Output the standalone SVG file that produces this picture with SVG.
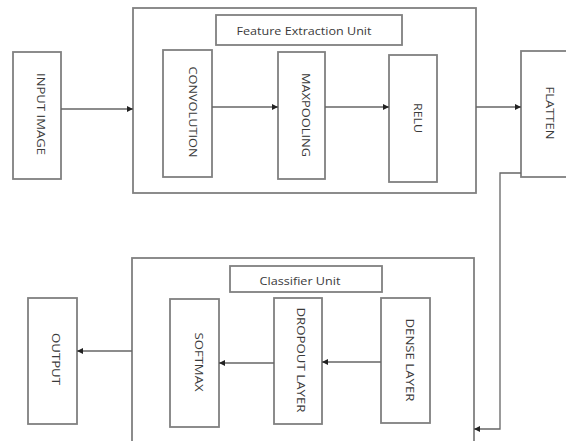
<svg xmlns="http://www.w3.org/2000/svg" width="566" height="441" viewBox="0 0 566 441">
<style>
.b{fill:#fff;stroke:#808080;stroke-width:1.8}
.t{font-family:"Open Sans","Liberation Sans",sans-serif;font-size:11.5px;fill:#3a3a3a;text-anchor:middle;dominant-baseline:central}
.c{fill:none;stroke:#666;stroke-width:1.3}
</style>
<defs>
<marker id="a" viewBox="0 0 10 10" refX="10" refY="5" markerWidth="6" markerHeight="6" markerUnits="userSpaceOnUse" orient="auto"><path d="M0,0L10,5L0,10z" fill="#222"/></marker>
</defs>
<rect width="566" height="441" fill="#fff"/>
<g id="feature-unit"><rect class="b" x="133" y="8" width="343" height="185"/>
<rect class="b" x="216" y="15" width="186" height="30"/>
<text class="t" x="304" y="30" textLength="135" lengthAdjust="spacingAndGlyphs">Feature Extraction Unit</text></g>
<g id="classifier-unit"><rect class="b" x="132" y="258" width="342" height="190"/>
<rect class="b" x="230" y="266" width="152" height="26"/>
<text class="t" x="300" y="280" textLength="81" lengthAdjust="spacingAndGlyphs">Classifier Unit</text></g>
<g id="input"><rect class="b" x="13" y="52" width="48" height="127"/>
<text class="t" transform="translate(41,114) rotate(90)" textLength="82" lengthAdjust="spacingAndGlyphs">INPUT IMAGE</text></g>
<g id="conv"><rect class="b" x="163" y="50" width="49" height="127"/>
<text class="t" transform="translate(193,112) rotate(90)" textLength="91" lengthAdjust="spacingAndGlyphs">CONVOLUTION</text></g>
<g id="maxpool"><rect class="b" x="278" y="52" width="47" height="127"/>
<text class="t" transform="translate(306,115) rotate(90)" textLength="84" lengthAdjust="spacingAndGlyphs">MAXPOOLING</text></g>
<g id="relu"><rect class="b" x="389" y="55" width="48" height="127"/>
<text class="t" transform="translate(418,118) rotate(90)" textLength="30" lengthAdjust="spacingAndGlyphs">RELU</text></g>
<g id="flatten"><rect class="b" x="521" y="51" width="50" height="126"/>
<text class="t" transform="translate(550,113) rotate(90)" textLength="53" lengthAdjust="spacingAndGlyphs">FLATTEN</text></g>
<g id="output"><rect class="b" x="28" y="298" width="49" height="126"/>
<text class="t" transform="translate(56,359) rotate(90)" textLength="52" lengthAdjust="spacingAndGlyphs">OUTPUT</text></g>
<g id="softmax"><rect class="b" x="170" y="299" width="49" height="128"/>
<text class="t" transform="translate(199,362) rotate(90)" textLength="59" lengthAdjust="spacingAndGlyphs">SOFTMAX</text></g>
<g id="dropout"><rect class="b" x="274" y="298" width="48" height="126"/>
<text class="t" transform="translate(301,360) rotate(90)" textLength="105" lengthAdjust="spacingAndGlyphs">DROPOUT LAYER</text></g>
<g id="dense"><rect class="b" x="381" y="298" width="49" height="125"/>
<text class="t" transform="translate(410,360) rotate(90)" textLength="83" lengthAdjust="spacingAndGlyphs">DENSE LAYER</text></g>
<g id="connectors">
<path class="c" d="M61,109H133" marker-end="url(#a)"/>
<path class="c" d="M212,107H278" marker-end="url(#a)"/>
<path class="c" d="M325,107H389" marker-end="url(#a)"/>
<path class="c" d="M476,107H521" marker-end="url(#a)"/>
<path class="c" d="M521,173H500V429H474" marker-end="url(#a)"/>
<path class="c" d="M381,362H322" marker-end="url(#a)"/>
<path class="c" d="M274,363H219" marker-end="url(#a)"/>
<path class="c" d="M132,351H77" marker-end="url(#a)"/>
</g>
</svg>
